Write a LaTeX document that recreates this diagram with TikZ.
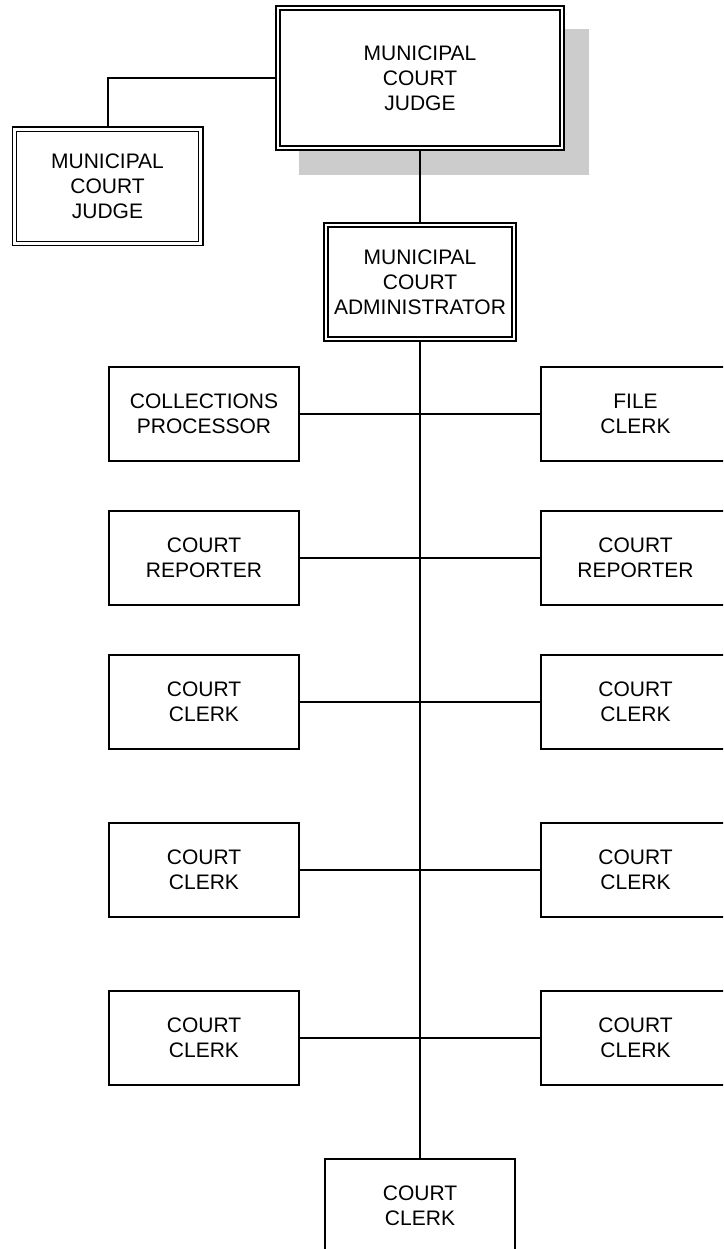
\documentclass[tikz,border=0pt]{standalone}
\usepackage{fontspec}
\setmainfont{Liberation Sans}
\usetikzlibrary{backgrounds}
\definecolor{shadowgray}{HTML}{CCCCCC}
\begin{document}
\begin{tikzpicture}[x=1pt,y=-1pt,
  every node/.style={font=\fontsize{21}{25}\selectfont, align=center, inner sep=0pt},
  headbox/.style={draw, double, line width=1.6pt, double distance=2.6pt,
                  fill=white, outer sep=2.9pt},
  staffbox/.style={draw, line width=2pt, fill=white,
                   minimum width=190pt, minimum height=94pt},
  link/.style={line width=2pt}]
\useasboundingbox (0,0) rectangle (723,1249);
\clip (0,0) rectangle (723,1249);

% judges and administrator
\node[headbox, minimum width=284.2pt, minimum height=140.2pt] (judge) at (420,78)
  {MUNICIPAL\\COURT\\JUDGE};
\node[headbox, minimum width=186.2pt, minimum height=114.2pt] (judgeb) at (107.5,186.5)
  {MUNICIPAL\\COURT\\JUDGE};
\node[headbox, minimum width=188.2pt, minimum height=114.2pt] (admin) at (420,282)
  {MUNICIPAL\\COURT\\ADMINISTRATOR};

% drop shadow behind the presiding judge
\begin{scope}[on background layer]
  \fill[shadowgray] ([shift={(24,24)}]judge.north west)
    rectangle ([shift={(24,24)}]judge.south east);
\end{scope}

% staff, left column
\node[staffbox] (l1) at (204,414)  {COLLECTIONS\\PROCESSOR};
\node[staffbox] (l2) at (204,558)  {COURT\\REPORTER};
\node[staffbox] (l3) at (204,702)  {COURT\\CLERK};
\node[staffbox] (l4) at (204,870)  {COURT\\CLERK};
\node[staffbox] (l5) at (204,1038) {COURT\\CLERK};

% staff, right column
\node[staffbox] (r1) at (635.5,414)  {FILE\\CLERK};
\node[staffbox] (r2) at (635.5,558)  {COURT\\REPORTER};
\node[staffbox] (r3) at (635.5,702)  {COURT\\CLERK};
\node[staffbox] (r4) at (635.5,870)  {COURT\\CLERK};
\node[staffbox] (r5) at (635.5,1038) {COURT\\CLERK};

% last clerk at the foot of the trunk
\node[staffbox] (bc) at (420,1206) {COURT\\CLERK};

% connectors
\draw[link] (judge.west) -| (judgeb.north);
\draw[link] (judge.south) -- (admin.north);
\draw[link] (admin.south) -- (bc.north);
\foreach \i in {1,...,5}
  \draw[link] (l\i.east) -- (r\i.west);
\end{tikzpicture}
\end{document}
